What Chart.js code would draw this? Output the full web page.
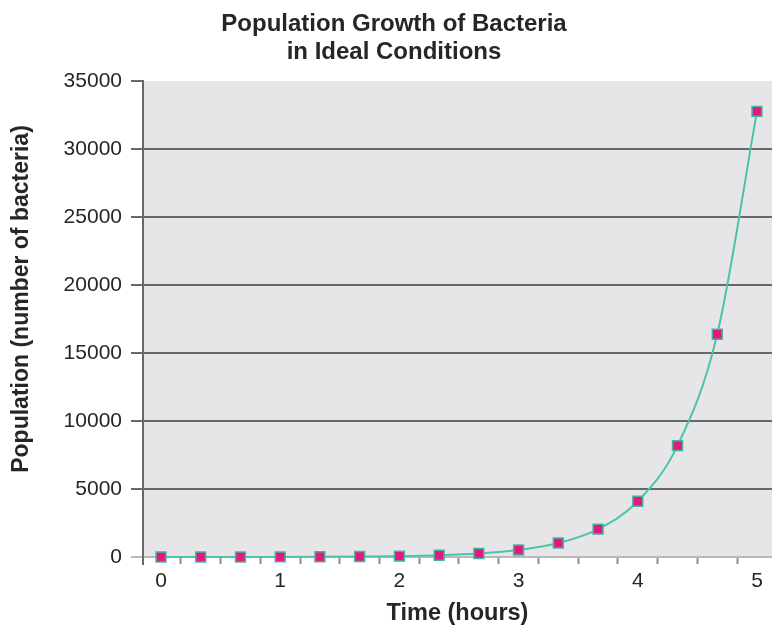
<!DOCTYPE html>
<html>
<head>
<meta charset="utf-8">
<script src="https://cdn.jsdelivr.net/npm/chart.js@4/dist/chart.umd.min.js"></script>
<style>
html, body { margin: 0; padding: 0; background: #ffffff; overflow: hidden; }
canvas { display: block; }
</style>
</head>
<body>
<canvas id="c" width="772" height="626" style="width:772px;height:626px"></canvas>
<script>
// ---- chart data ----
const chartTitle = ['Population Growth of Bacteria', 'in Ideal Conditions'];
const xAxisTitle = 'Time (hours)';
const yAxisTitle = 'Population (number of bacteria)';
const timeHours = [0, 1/3, 2/3, 1, 4/3, 5/3, 2, 7/3, 8/3, 3, 10/3, 11/3, 4, 13/3, 14/3, 5];
const population = [1, 2, 4, 8, 16, 32, 64, 128, 256, 512, 1024, 2048, 4096, 8192, 16384, 32768];
const xTickLabels = ['0', '1', '2', '3', '4', '5'];
const yTickLabels = ['0', '5000', '10000', '15000', '20000', '25000', '30000', '35000'];

// ---- styling ----
const FONT = "'Liberation Sans', Arial, Helvetica, sans-serif";
const TEXT = '#262626';
const GRID = '#686868';
const LIGHT = '#b9b9b9';

const xMajor = xTickLabels.map(Number);
const xMinor = timeHours.slice(1).map((t, i) => (t + timeHours[i]) / 2);
const yValues = yTickLabels.map(Number);
const isMajor = v => xMajor.some(m => Math.abs(m - v) < 1e-6);

const points = timeHours.map((t, i) => ({ x: t, y: population[i] }));

const decor = {
  id: 'decor',
  beforeDraw(chart) {
    const { ctx, chartArea: a } = chart;
    ctx.save();
    ctx.fillStyle = '#e6e6e8';
    ctx.fillRect(a.left, a.top, a.right - a.left, a.bottom - a.top);
    ctx.restore();
  },
  afterDraw(chart) {
    const { ctx, chartArea: a } = chart;
    ctx.save();
    // y axis line runs a little below the x axis
    ctx.strokeStyle = GRID;
    ctx.lineWidth = 2;
    ctx.beginPath();
    ctx.moveTo(a.left, a.bottom);
    ctx.lineTo(a.left, a.bottom + 8);
    ctx.stroke();
    // y axis title
    ctx.translate(22, 299);
    ctx.rotate(-Math.PI / 2);
    ctx.fillStyle = TEXT;
    ctx.font = "bold 23px " + FONT;
    ctx.textAlign = 'center';
    ctx.textBaseline = 'middle';
    ctx.fillText(yAxisTitle, 0, 0);
    ctx.restore();
  }
};

new Chart(document.getElementById('c'), {
  type: 'line',
  data: {
    datasets: [{
      label: 'Population',
      data: points,
      borderColor: '#4ec4a6',
      borderWidth: 2,
      cubicInterpolationMode: 'monotone',
      pointStyle: 'rect',
      pointRadius: 7,
      pointHoverRadius: 7,
      pointBackgroundColor: '#e3177f',
      pointBorderColor: '#43b898',
      pointBorderWidth: 1.5,
      clip: false
    }]
  },
  options: {
    responsive: false,
    maintainAspectRatio: false,
    animation: false,
    devicePixelRatio: 1,
    layout: { autoPadding: false, padding: { left: 16, right: 0, top: 0, bottom: 0 } },
    plugins: {
      legend: { display: false },
      tooltip: { enabled: false },
      title: {
        display: true,
        text: chartTitle,
        color: TEXT,
        font: { family: FONT, size: 24, weight: 'bold', lineHeight: 1.17 },
        padding: { top: 10, bottom: 14.84 }
      }
    },
    scales: {
      x: {
        type: 'linear',
        min: -0.151,
        max: 5.126,
        afterFit(scale) { scale.height = 69; scale.paddingLeft = 0; scale.paddingRight = 0; },
        afterBuildTicks(scale) {
          const all = xMajor.concat(xMinor).sort((a, b) => a - b);
          scale.ticks = all.map(v => ({ value: v }));
        },
        ticks: {
          autoSkip: false,
          maxRotation: 0,
          padding: 5,
          color: TEXT,
          font: { family: FONT, size: 21 },
          callback: (v) => {
            const i = xMajor.findIndex(m => Math.abs(m - v) < 1e-6);
            return i >= 0 ? xTickLabels[i] : '';
          }
        },
        grid: {
          display: true,
          drawOnChartArea: false,
          drawTicks: true,
          tickLength: 7,
          tickWidth: 2,
          tickColor: (ctx) => (ctx.tick && isMajor(ctx.tick.value)) ? 'rgba(0,0,0,0)' : '#8c8c8c'
        },
        border: { display: true, color: LIGHT, width: 2 },
        title: {
          display: true,
          text: xAxisTitle,
          color: TEXT,
          font: { family: FONT, size: 23.5, weight: 'bold' },
          padding: { top: 0, bottom: -2 }
        }
      },
      y: {
        type: 'linear',
        min: 0,
        max: 35000,
        afterFit(scale) { scale.width = 127; scale.paddingTop = 0; scale.paddingBottom = 0; },
        afterBuildTicks(scale) {
          scale.ticks = yValues.map(v => ({ value: v }));
        },
        ticks: {
          autoSkip: false,
          padding: 9,
          color: TEXT,
          font: { family: FONT, size: 21 },
          callback: (v) => {
            const i = yValues.indexOf(v);
            return i >= 0 ? yTickLabels[i] : '';
          }
        },
        grid: {
          display: true,
          drawOnChartArea: true,
          drawTicks: true,
          tickLength: 12,
          lineWidth: 2,
          tickWidth: 2,
          color: (ctx) => {
            const v = ctx.tick ? ctx.tick.value : null;
            return (v === 0 || v === 35000) ? 'rgba(0,0,0,0)' : GRID;
          },
          tickColor: (ctx) => (ctx.tick && ctx.tick.value === 0) ? LIGHT : GRID
        },
        border: { display: true, color: GRID, width: 2 },
        title: { display: false }
      }
    }
  },
  plugins: [decor]
});
</script>
</body>
</html>
